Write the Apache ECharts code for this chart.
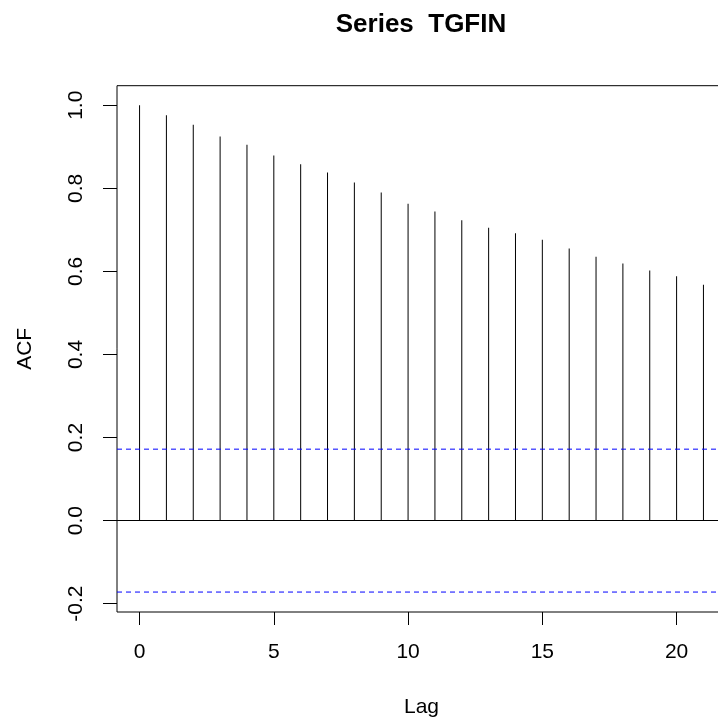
<!DOCTYPE html>
<html>
<head>
<meta charset="utf-8">
<script src="https://cdn.jsdelivr.net/npm/echarts@6/dist/echarts.min.js"></script>
<style>
html,body{margin:0;padding:0;background:#fff;}
#chart{width:718px;height:719px;}
</style>
</head>
<body>
<div id="chart"></div>
<script>
// ---- data ----
const lags = [0,1,2,3,4,5,6,7,8,9,10,11,12,13,14,15,16,17,18,19,20,21];
const acfValues = [1.000,0.976,0.953,0.925,0.905,0.879,0.858,0.838,0.814,0.790,0.763,0.744,0.723,0.705,0.692,0.676,0.655,0.635,0.619,0.602,0.588,0.568];
const confLimits = [0.172, -0.172];
const xTickValues = [0,5,10,15,20];
const yTickValues = [-0.2,0,0.2,0.4,0.6,0.8,1.0];
const titleText = 'Series  TGFIN';
const xName = 'Lag';
const yName = 'ACF';

const FONT = 'Liberation Sans, Arial, sans-serif';
const X_MIN = -0.84, X_MAX = 21.84;
const chart = echarts.init(document.getElementById('chart'), null, {renderer:'canvas'});

const barData = lags.map((l,i)=>[l, acfValues[i]]);

function limitSeries(v){
  return {
    type:'line',
    data:[[X_MIN, v],[X_MAX, v]],
    showSymbol:false,
    symbol:'none',
    silent:true,
    clip:true,
    z:3,
    itemStyle:{color:'#0000ff'},
    lineStyle:{color:'#0000ff', type:[5,4], width:1, opacity:1}
  };
}

chart.setOption({
  animation:false,
  backgroundColor:'#ffffff',
  graphic:[{
    type:'text',
    x:421, y:25,
    style:{text:titleText, fill:'#000', font:'bold 26px ' + FONT, textAlign:'center', textVerticalAlign:'middle'}
  }],
  grid:{left:117, top:85.7, width:609, height:526.3, show:true, borderColor:'#000', borderWidth:1,
        backgroundColor:'transparent', containLabel:false, outerBoundsMode:'none'},
  xAxis:{
    type:'value', min:X_MIN, max:X_MAX,
    name:xName, nameLocation:'middle', nameGap:95,
    nameTextStyle:{color:'#000', fontSize:21, fontFamily:FONT, align:'center', verticalAlign:'middle'},
    axisLine:{show:false, onZero:false},
    splitLine:{show:false},
    axisTick:{show:true, inside:false, length:13, lineStyle:{color:'#000', width:1}, customValues:xTickValues},
    axisLabel:{color:'#000', fontSize:21, fontFamily:FONT, margin:30, customValues:xTickValues, formatter:v=>String(v)}
  },
  yAxis:{
    type:'value', min:-0.22, max:1.047,
    name:yName, nameLocation:'middle', nameGap:92, nameRotate:90,
    nameTextStyle:{color:'#000', fontSize:21, fontFamily:FONT, align:'center', verticalAlign:'middle'},
    axisLine:{show:false, onZero:false},
    splitLine:{show:false},
    axisTick:{show:true, inside:false, length:14, lineStyle:{color:'#000', width:1}, customValues:yTickValues},
    axisLabel:{color:'#000', fontSize:21, fontFamily:FONT, margin:40.5, rotate:90, align:'center', verticalAlign:'middle',
      customValues:yTickValues, formatter:v=>Number(v).toFixed(1)}
  },
  series:[{
    name:'ACF',
    type:'bar',
    data:barData,
    barWidth:1,
    itemStyle:{color:'#000'},
    silent:true,
    markLine:{
      silent:true, symbol:['none','none'], label:{show:false},
      lineStyle:{color:'#000', type:'solid', width:1},
      data:[{yAxis:0}]
    }
  }].concat(confLimits.map(limitSeries))
});
</script>
</body>
</html>
